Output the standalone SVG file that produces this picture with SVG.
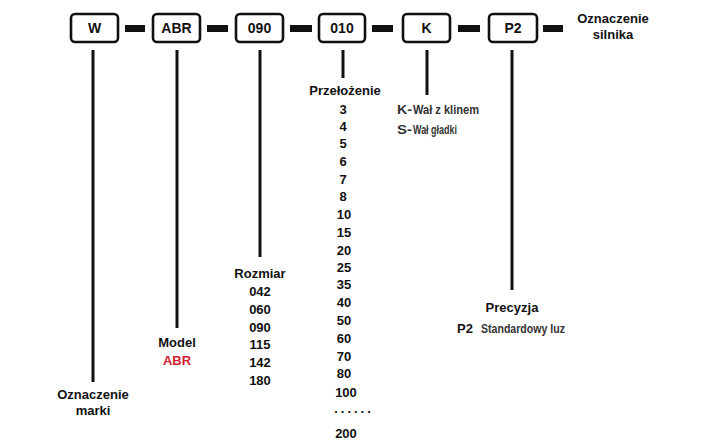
<svg xmlns="http://www.w3.org/2000/svg" width="718" height="443" viewBox="0 0 718 443">
<style>
.box rect{fill:#fff;stroke:#111;stroke-width:2.6}
.bt{font-family:"Liberation Sans",Arial,sans-serif;font-weight:bold;font-size:14px;fill:#111;text-anchor:middle}
.lb{font-family:"Liberation Sans",Arial,sans-serif;font-weight:bold;font-size:13px;fill:#111;text-anchor:middle}
.num{font-family:"Liberation Sans",Arial,sans-serif;font-weight:bold;font-size:13px;fill:#111;text-anchor:middle}
.nr{font-family:"Liberation Sans",Arial,sans-serif;font-weight:bold;font-size:13px;fill:#333}
.red{fill:#d0202f}
.conn line{stroke:#111;stroke-width:3}
.dash{fill:#111}
</style>
<rect width="718" height="443" fill="#fff"/>
<g id="connectors" class="conn">
<rect class="dash" x="125" y="25" width="20" height="7"/>
<rect class="dash" x="207" y="25" width="21" height="7"/>
<rect class="dash" x="290" y="25" width="22" height="7"/>
<rect class="dash" x="372" y="25" width="21" height="7"/>
<rect class="dash" x="458" y="25" width="22" height="7"/>
<rect class="dash" x="543" y="25" width="20" height="7"/>
<line x1="93" y1="50" x2="93" y2="382"/>
<line x1="177" y1="50" x2="177" y2="328"/>
<line x1="260" y1="50" x2="260" y2="257"/>
<line x1="343" y1="50" x2="343" y2="78"/>
<line x1="427" y1="50" x2="427" y2="95"/>
<line x1="512" y1="50" x2="512" y2="290"/>
</g>
<g id="node-W" class="box"><rect x="71" y="14" width="47" height="28" rx="4"/><text class="bt" x="94.5" y="33">W</text></g>
<g id="node-ABR" class="box"><rect x="153" y="14" width="47" height="28" rx="4"/><text class="bt" x="176.5" y="33">ABR</text></g>
<g id="node-090" class="box"><rect x="236" y="14" width="47" height="28" rx="4"/><text class="bt" x="259.5" y="33">090</text></g>
<g id="node-010" class="box"><rect x="319" y="14" width="46" height="28" rx="4"/><text class="bt" x="342" y="33">010</text></g>
<g id="node-K" class="box"><rect x="403" y="14" width="47" height="28" rx="4"/><text class="bt" x="426.5" y="33">K</text></g>
<g id="node-P2" class="box"><rect x="489" y="14" width="48" height="28" rx="4"/><text class="bt" x="513" y="33">P2</text></g>
<g id="label-silnika"><text class="lb" x="613" y="23">Oznaczenie</text><text class="lb" x="613" y="38.5">silnika</text></g>
<g id="label-marki"><text class="lb" x="93" y="399">Oznaczenie</text><text class="lb" x="93" y="414.5">marki</text></g>
<g id="label-model"><text class="lb" x="177" y="347">Model</text><text class="lb red" x="177" y="365">ABR</text></g>
<g id="label-rozmiar">
<text class="lb" x="260" y="278">Rozmiar</text>
<text class="num" x="260" y="296">042</text>
<text class="num" x="260" y="314">060</text>
<text class="num" x="260" y="332">090</text>
<text class="num" x="260" y="349">115</text>
<text class="num" x="260" y="367">142</text>
<text class="num" x="260" y="385">180</text>
</g>
<g id="label-przelozenie">
<text class="lb" x="345" y="95">Przełożenie</text>
<text class="num" x="343" y="114">3</text>
<text class="num" x="343" y="131">4</text>
<text class="num" x="343" y="148">5</text>
<text class="num" x="343" y="166">6</text>
<text class="num" x="343" y="184">7</text>
<text class="num" x="343" y="201">8</text>
<text class="num" x="344" y="219">10</text>
<text class="num" x="344" y="237">15</text>
<text class="num" x="344" y="255">20</text>
<text class="num" x="344" y="272">25</text>
<text class="num" x="344" y="289">35</text>
<text class="num" x="344" y="307">40</text>
<text class="num" x="344" y="325">50</text>
<text class="num" x="344" y="343">60</text>
<text class="num" x="344" y="361">70</text>
<text class="num" x="344" y="378">80</text>
<text class="num" x="346" y="397">100</text>
<text class="num" x="354" y="413" letter-spacing="3">......</text>
<text class="num" x="346" y="438">200</text>
</g>
<g id="label-wal">
<text class="nr" x="397" y="114" font-size="14" textLength="15" lengthAdjust="spacingAndGlyphs">K-</text>
<text class="nr" x="413" y="114" textLength="66" lengthAdjust="spacingAndGlyphs">Wał z klinem</text>
<text class="nr" x="397" y="134" font-size="14" textLength="15" lengthAdjust="spacingAndGlyphs">S-</text>
<text class="nr" x="413" y="134" textLength="44" lengthAdjust="spacingAndGlyphs">Wał gładki</text>
</g>
<g id="label-precyzja">
<text class="lb" x="512" y="312">Precyzja</text>
<text class="lb" x="457" y="333" style="text-anchor:start">P2</text>
<text class="nr" x="481" y="333" textLength="84" lengthAdjust="spacingAndGlyphs">Standardowy luz</text>
</g>
</svg>
